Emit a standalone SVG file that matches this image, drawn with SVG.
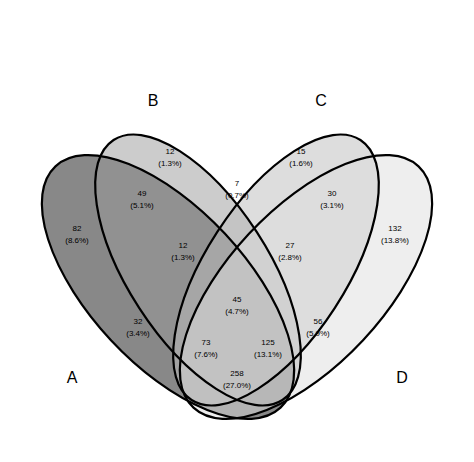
<svg xmlns="http://www.w3.org/2000/svg" width="474" height="462" viewBox="0 0 474 462">
<style>
.e{stroke:none;fill-opacity:0.5}
.o{fill:none;stroke:#000;stroke-width:2.2}
text{font-family:"Liberation Sans",Arial,sans-serif;font-size:8px;text-anchor:middle}
.s{font-size:16px}
</style>
<defs>
<ellipse id="eA" cx="168" cy="287" rx="165" ry="78" transform="rotate(47 168 287)"/>
<ellipse id="eB" cx="198" cy="270" rx="155" ry="70" transform="rotate(57 198 270)"/>
<ellipse id="eC" cx="276" cy="270" rx="155" ry="70" transform="rotate(-57 276 270)"/>
<ellipse id="eD" cx="306" cy="287" rx="165" ry="78" transform="rotate(-47 306 287)"/>
</defs>
<rect width="474" height="462" fill="#fff"/>
<g id="A"><use href="#eA" class="e" fill="#111"/></g>
<g id="B"><use href="#eB" class="e" fill="#999"/></g>
<g id="C"><use href="#eC" class="e" fill="#bbb"/></g>
<g id="D"><use href="#eD" class="e" fill="#ddd"/></g>
<g id="outlines"><use href="#eA" class="o"/><use href="#eB" class="o"/><use href="#eC" class="o"/><use href="#eD" class="o"/></g>
<g id="labels">
<text class="s" x="72" y="383">A</text><text class="s" x="153" y="106">B</text><text class="s" x="321" y="106">C</text><text class="s" x="402" y="383">D</text>
<text x="77" y="231">82</text><text x="77" y="243">(8.6%)</text>
<text x="170" y="154">12</text><text x="170" y="166">(1.3%)</text>
<text x="301" y="154">15</text><text x="301" y="166">(1.6%)</text>
<text x="395" y="231">132</text><text x="395" y="243">(13.8%)</text>
<text x="142" y="196">49</text><text x="142" y="208">(5.1%)</text>
<text x="237" y="186">7</text><text x="237" y="198">(0.7%)</text>
<text x="332" y="196">30</text><text x="332" y="208">(3.1%)</text>
<text x="183" y="248">12</text><text x="183" y="260">(1.3%)</text>
<text x="290" y="248">27</text><text x="290" y="260">(2.8%)</text>
<text x="237" y="302">45</text><text x="237" y="314">(4.7%)</text>
<text x="138" y="324">32</text><text x="138" y="336">(3.4%)</text>
<text x="318" y="324">56</text><text x="318" y="336">(5.9%)</text>
<text x="206" y="345">73</text><text x="206" y="357">(7.6%)</text>
<text x="268" y="345">125</text><text x="268" y="357">(13.1%)</text>
<text x="237" y="376">258</text><text x="237" y="388">(27.0%)</text>
</g>
</svg>
